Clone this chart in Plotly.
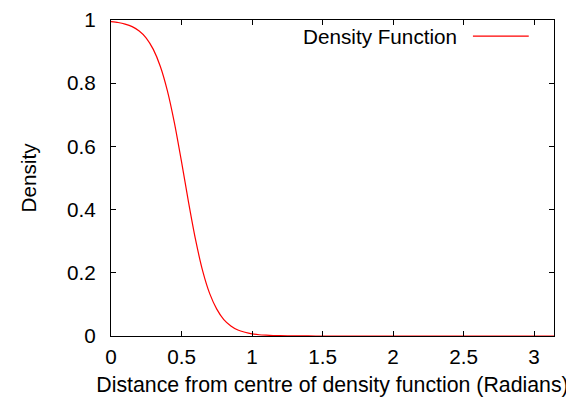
import plotly.graph_objects as go

# Distance (radians) and density values
distance = [0.00, 0.05, 0.10, 0.15, 0.20, 0.25, 0.30, 0.35, 0.40, 0.45,
            0.50, 0.55, 0.60, 0.65, 0.70, 0.75, 0.80, 0.85, 0.90, 0.95,
            1.00, 1.05, 1.10, 1.15, 1.20, 1.30, 1.40, 1.50, 1.75, 2.00,
            2.25, 2.50, 2.75, 3.00, 3.1416]
density = [0.995, 0.992, 0.987, 0.979, 0.965, 0.943, 0.907, 0.853, 0.776, 0.674,
           0.552, 0.423, 0.304, 0.206, 0.134, 0.085, 0.052, 0.032, 0.019, 0.012,
           0.007, 0.004, 0.0025, 0.0015, 0.0009, 0.0003, 0.0001, 0.0, 0.0, 0.0,
           0.0, 0.0, 0.0, 0.0, 0.0]

x_ticks = [0, 0.5, 1, 1.5, 2, 2.5, 3]
x_tick_labels = ["0", "0.5", "1", "1.5", "2", "2.5", "3"]
y_ticks = [0, 0.2, 0.4, 0.6, 0.8, 1]
y_tick_labels = ["0", "0.2", "0.4", "0.6", "0.8", "1"]

series_name = "Density Function"
x_title = "Distance from centre of density function (Radians)"
y_title = "Density"

FONT = "Liberation Sans, Arial, sans-serif"
FS = 20.7

fig = go.Figure()
fig.add_trace(go.Scatter(
    x=distance, y=density, mode="lines", name=series_name,
    line=dict(color="#ff0000", width=1.2, shape="spline", smoothing=0.6),
    showlegend=False, cliponaxis=True,
))

axis_common = dict(
    showline=True, linecolor="black", linewidth=1, mirror="ticks",
    ticks="inside", ticklen=5, tickcolor="black", tickwidth=1,
    showgrid=False, zeroline=False, automargin=False,
    tickfont=dict(family=FONT, size=FS, color="black"),
)

fig.update_xaxes(
    range=[0, 3.14159265], tickvals=x_ticks, ticktext=x_tick_labels,
    title=dict(text=x_title, font=dict(family=FONT, size=21.3, color="black"), standoff=10),
    ticklabelstandoff=2,
    **axis_common,
)
fig.update_yaxes(
    range=[0, 1], tickvals=y_ticks, ticktext=y_tick_labels,
    title=dict(text=y_title, font=dict(family=FONT, size=FS, color="black"), standoff=24),
    ticklabelstandoff=10,
    **axis_common,
)

# gnuplot-style key: text then line sample
fig.add_annotation(
    x=0.786, y=0.949, xref="paper", yref="paper", xanchor="right", yanchor="middle",
    text=series_name, showarrow=False,
    font=dict(family=FONT, size=FS, color="black"),
)
fig.add_shape(type="line", xref="paper", yref="paper",
              x0=0.817, x1=0.943, y0=0.949, y1=0.949,
              line=dict(color="#ff0000", width=1.2))

# page body has an 8px margin, so the figure is sized/offset to compensate
fig.update_layout(
    width=566, height=393,
    margin=dict(l=103, r=20, t=12, b=65, autoexpand=False),
    plot_bgcolor="white", paper_bgcolor="white",
    font=dict(family=FONT, size=FS, color="black"),
)

fig.write_html("out.html")
